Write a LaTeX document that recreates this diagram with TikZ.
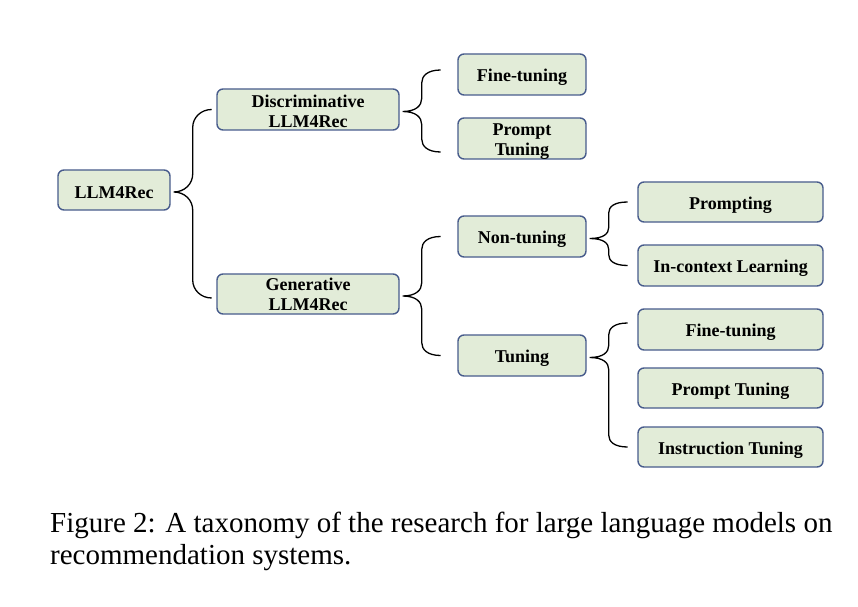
\documentclass[tikz,border=0pt]{standalone}
\usepackage{fontspec}
\setmainfont{Liberation Serif}
\usetikzlibrary{calc}

\definecolor{boxfill}{RGB}{226,236,216}
\definecolor{boxline}{RGB}{72,92,140}

\tikzset{
  taxbox/.style={draw=boxline, line width=1.4pt, fill=boxfill, rounded corners=6pt,
    align=center, inner sep=0pt, font=\fontsize{18}{20}\selectfont\bfseries},
  bracket/.style={draw=black, line width=1.3pt},
}

% one line of box text: ink set a little low (3pt by default), size kept as it is
\newcommand{\dn}[2][3pt]{\raisebox{-#1}[\height][\depth]{#2}}

% Curly brace from a parent node to its first and last child.
% #1 parent, #2 upper child, #3 lower child, #4 / #5 vertical shift of the upper / lower tip,
% #6 radius of the curls
\newcommand{\taxbrace}[6]{%
  \draw[bracket] let \p1=($(#1.east)+(3pt,-2pt)$),
                     \p2=($(#2.west)+(0pt,#4)$),
                     \p3=($(#3.west)+(0pt,#5)$),
                     \n1={\x1+19pt}, \n2={\x1+38pt} in
    (\n2,\y2) .. controls (\n1+0.45*#6,\y2) and (\n1,\y2-0.45*#6) .. (\n1,\y2-#6)
    -- (\n1,\y1+#6) .. controls (\n1,\y1+0.45*#6) and (\n1-0.45*#6,\y1) .. (\x1,\y1)
    .. controls (\n1-0.45*#6,\y1) and (\n1,\y1-0.45*#6) .. (\n1,\y1-#6)
    -- (\n1,\y3+#6) .. controls (\n1,\y3+0.45*#6) and (\n1+0.45*#6,\y3) .. (\n2,\y3);
}

\begin{document}
\begin{tikzpicture}[x=1pt,y=1pt]
\useasboundingbox[fill=white] (0,0) rectangle (858,606);

% level 0
\node[taxbox, minimum width=112pt, minimum height=40pt] (root) at (114,416) {\dn{LLM4Rec}};

% level 1
\node[taxbox, minimum width=182pt, minimum height=41pt] (disc) at (308,496.5) {\dn[2pt]{Discriminative}\\\dn[2pt]{LLM4Rec}};
\node[taxbox, minimum width=182pt, minimum height=40pt] (gen) at (308,312) {\dn[0.5pt]{Generative}\\\dn[0.5pt]{LLM4Rec}};

% level 2
\node[taxbox, minimum width=128pt, minimum height=41pt] (ft1) at (522,531.5) {\dn{Fine-tuning}};
\node[taxbox, minimum width=128pt, minimum height=41pt] (pt1) at (522,467.5) {\dn{Prompt}\\\dn{Tuning}};
\node[taxbox, minimum width=128pt, minimum height=41pt] (nont) at (522,369.5) {\dn{Non-tuning}};
\node[taxbox, minimum width=128pt, minimum height=41pt] (tun) at (522,250.5) {\dn{Tuning}};

% level 3
\node[taxbox, minimum width=185pt, minimum height=40pt] (prm) at (730.5,404) {\dn{Prompting}};
\node[taxbox, minimum width=185pt, minimum height=41pt] (icl) at (730.5,340.5) {\dn{In-context Learning}};
\node[taxbox, minimum width=185pt, minimum height=41pt] (ft2) at (730.5,276.5) {\dn{Fine-tuning}};
\node[taxbox, minimum width=185pt, minimum height=40pt] (pt2) at (730.5,218) {\dn{Prompt Tuning}};
\node[taxbox, minimum width=185pt, minimum height=40pt] (ins) at (730.5,159) {\dn{Instruction Tuning}};

% braces
\taxbrace{root}{disc}{gen}{0pt}{-4pt}{18pt}
\taxbrace{disc}{ft1}{pt1}{4.5pt}{-13.5pt}{13pt}
\taxbrace{gen}{nont}{tun}{0pt}{0pt}{13pt}
\taxbrace{nont}{prm}{icl}{0pt}{0pt}{11pt}
\taxbrace{tun}{ft2}{ins}{6.5pt}{0pt}{12pt}

% caption
\node[anchor=base west, inner sep=0pt, font=\fontsize{29}{32}\selectfont] (cap1) at (50,74)
  {Figure 2: A taxonomy of the research for large language models on};
\node[anchor=base west, inner sep=0pt, font=\fontsize{29}{32}\selectfont] (cap2) at (50,42)
  {recommendation systems.};
\end{tikzpicture}
\end{document}
